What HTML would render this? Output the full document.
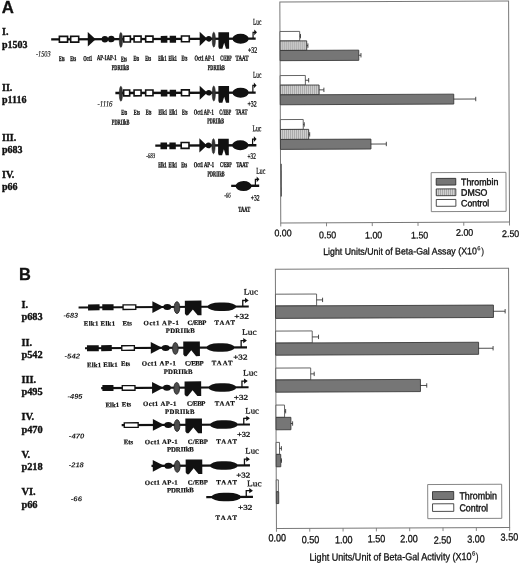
<!DOCTYPE html>
<html><head><meta charset="utf-8"><title>Figure</title>
<style>
html,body{margin:0;padding:0;background:#fff;}
body{width:520px;height:564px;overflow:hidden;}
svg{display:block;filter:grayscale(1) blur(0.35px);}
</style></head><body>
<svg width="520" height="564" viewBox="0 0 520 564">
<defs>
<pattern id="dmso" width="2" height="4" patternUnits="userSpaceOnUse"><rect width="2" height="4" fill="#d2d2d2"/><rect x="0" width="0.9" height="4" fill="#a2a2a2"/></pattern>
</defs>
<rect x="0" y="0" width="520" height="564" fill="#fff"/>

<text x="1.80" y="12.60" font-family='"Liberation Sans", sans-serif' font-size="16.8" font-weight="bold" font-style="normal" text-anchor="start" fill="#111" stroke="#111" stroke-width="0.3" >A</text>
<text x="2.00" y="34.70" font-family='"Liberation Serif", serif' font-size="10" font-weight="bold" font-style="normal" text-anchor="start" fill="#111" stroke="#111" stroke-width="0.35" >I.</text>
<text x="2.00" y="47.70" font-family='"Liberation Serif", serif' font-size="10" font-weight="bold" font-style="normal" text-anchor="start" fill="#111" stroke="#111" stroke-width="0.35" >p1503</text>
<text x="2.00" y="90.70" font-family='"Liberation Serif", serif' font-size="10" font-weight="bold" font-style="normal" text-anchor="start" fill="#111" stroke="#111" stroke-width="0.35" >II.</text>
<text x="2.00" y="103.10" font-family='"Liberation Serif", serif' font-size="10" font-weight="bold" font-style="normal" text-anchor="start" fill="#111" stroke="#111" stroke-width="0.35" >p1116</text>
<text x="2.00" y="140.50" font-family='"Liberation Serif", serif' font-size="10" font-weight="bold" font-style="normal" text-anchor="start" fill="#111" stroke="#111" stroke-width="0.35" >III.</text>
<text x="2.00" y="153.10" font-family='"Liberation Serif", serif' font-size="10" font-weight="bold" font-style="normal" text-anchor="start" fill="#111" stroke="#111" stroke-width="0.35" >p683</text>
<text x="2.00" y="177.80" font-family='"Liberation Serif", serif' font-size="10" font-weight="bold" font-style="normal" text-anchor="start" fill="#111" stroke="#111" stroke-width="0.35" >IV.</text>
<text x="2.00" y="190.40" font-family='"Liberation Serif", serif' font-size="10" font-weight="bold" font-style="normal" text-anchor="start" fill="#111" stroke="#111" stroke-width="0.35" >p66</text>
<g transform="rotate(-0.16 153 45)">
<line x1="51.20" y1="39.00" x2="255.70" y2="39.00" stroke="#111" stroke-width="2.3"/>
<rect x="59.40" y="36.10" width="8.20" height="5.80" fill="#fff" stroke="#111" stroke-width="1.6"/>
<rect x="70.70" y="36.10" width="8.00" height="5.80" fill="#fff" stroke="#111" stroke-width="1.6"/>
<polygon points="87.80,31.80 95.70,39.00 87.80,46.20" fill="#111" stroke="none" stroke-width="0"/>
<ellipse cx="104.90" cy="39.00" rx="3.25" ry="3.25" fill="#111" stroke="none" stroke-width="0"/>
<ellipse cx="111.30" cy="39.00" rx="3.25" ry="3.25" fill="#111" stroke="none" stroke-width="0"/>
<ellipse cx="120.90" cy="39.80" rx="1.60" ry="7.50" fill="#333" stroke="#262626" stroke-width="0.6"/>
<rect x="123.70" y="36.10" width="6.70" height="5.80" fill="#fff" stroke="#111" stroke-width="1.6"/>
<rect x="134.10" y="36.10" width="7.00" height="5.80" fill="#fff" stroke="#111" stroke-width="1.6"/>
<rect x="145.70" y="36.10" width="7.30" height="5.80" fill="#fff" stroke="#111" stroke-width="1.6"/>
<rect x="160.80" y="35.90" width="6.60" height="6.80" fill="#111" stroke="none" stroke-width="0"/>
<rect x="169.70" y="35.90" width="6.40" height="6.80" fill="#111" stroke="none" stroke-width="0"/>
<rect x="181.50" y="36.10" width="7.80" height="5.80" fill="#fff" stroke="#111" stroke-width="1.6"/>
<polygon points="199.70,31.90 207.20,39.00 199.70,46.10" fill="#111" stroke="none" stroke-width="0"/>
<ellipse cx="208.80" cy="39.00" rx="2.80" ry="2.80" fill="#111" stroke="none" stroke-width="0"/>
<ellipse cx="213.80" cy="39.80" rx="1.60" ry="7.50" fill="#333" stroke="#262626" stroke-width="0.6"/>
<polygon points="218.40,32.40 229.10,32.40 229.10,49.00 226.00,49.00 224.18,43.02 222.36,49.00 219.04,49.00 218.40,47.01" fill="#111" stroke="none" stroke-width="0"/>
<ellipse cx="240.60" cy="39.00" rx="8.10" ry="5.00" fill="#111" stroke="none" stroke-width="0"/>
<path d="M253.10,39.00 L253.10,32.60 L255.50,32.60" fill="none" stroke="#111" stroke-width="1.2"/>
<polygon points="254.30,29.70 257.00,32.60 254.30,35.50" fill="#111" stroke="none" stroke-width="0"/>
<text x="253.00" y="25.00" font-family='"Liberation Serif", serif' font-size="8.8" font-weight="normal" font-style="normal" text-anchor="start" fill="#111" textLength="8.40" lengthAdjust="spacingAndGlyphs" stroke="#111" stroke-width="0.25" >Luc</text>
<text x="248.00" y="53.00" font-family='"Liberation Serif", serif' font-size="8.2" font-weight="normal" font-style="normal" text-anchor="start" fill="#111" textLength="9.20" lengthAdjust="spacingAndGlyphs" stroke="#111" stroke-width="0.3" >+32</text>
<text x="36.00" y="56.20" font-family='"Liberation Serif", serif' font-size="8.2" font-weight="normal" font-style="italic" text-anchor="start" fill="#111" textLength="14.60" lengthAdjust="spacingAndGlyphs" stroke="#111" stroke-width="0.15" >-1503</text>
<text x="58.90" y="60.70" font-family='"Liberation Serif", serif' font-size="7.4" font-weight="bold" font-style="normal" text-anchor="start" fill="#111" textLength="5.70" lengthAdjust="spacingAndGlyphs" stroke="#111" stroke-width="0.3" >Ets</text>
<text x="70.20" y="60.70" font-family='"Liberation Serif", serif' font-size="7.4" font-weight="bold" font-style="normal" text-anchor="start" fill="#111" textLength="5.80" lengthAdjust="spacingAndGlyphs" stroke="#111" stroke-width="0.3" >Ets</text>
<text x="83.10" y="60.70" font-family='"Liberation Serif", serif' font-size="7.4" font-weight="bold" font-style="normal" text-anchor="start" fill="#111" textLength="9.10" lengthAdjust="spacingAndGlyphs" stroke="#111" stroke-width="0.3" >Oct1</text>
<text x="96.90" y="59.90" font-family='"Liberation Serif", serif' font-size="7.4" font-weight="bold" font-style="normal" text-anchor="start" fill="#111" textLength="19.50" lengthAdjust="spacingAndGlyphs" stroke="#111" stroke-width="0.3" >AP-1AP-1</text>
<text x="120.90" y="61.30" font-family='"Liberation Serif", serif' font-size="7.4" font-weight="bold" font-style="normal" text-anchor="start" fill="#111" textLength="5.90" lengthAdjust="spacingAndGlyphs" stroke="#111" stroke-width="0.3" >Ets</text>
<text x="133.40" y="60.70" font-family='"Liberation Serif", serif' font-size="7.4" font-weight="bold" font-style="normal" text-anchor="start" fill="#111" textLength="5.70" lengthAdjust="spacingAndGlyphs" stroke="#111" stroke-width="0.3" >Ets</text>
<text x="145.20" y="60.70" font-family='"Liberation Serif", serif' font-size="7.4" font-weight="bold" font-style="normal" text-anchor="start" fill="#111" textLength="5.80" lengthAdjust="spacingAndGlyphs" stroke="#111" stroke-width="0.3" >Ets</text>
<text x="158.20" y="60.70" font-family='"Liberation Serif", serif' font-size="7.4" font-weight="bold" font-style="normal" text-anchor="start" fill="#111" textLength="8.20" lengthAdjust="spacingAndGlyphs" stroke="#111" stroke-width="0.3" >Elk1</text>
<text x="168.50" y="60.70" font-family='"Liberation Serif", serif' font-size="7.4" font-weight="bold" font-style="normal" text-anchor="start" fill="#111" textLength="8.20" lengthAdjust="spacingAndGlyphs" stroke="#111" stroke-width="0.3" >Elk1</text>
<text x="181.50" y="60.70" font-family='"Liberation Serif", serif' font-size="7.4" font-weight="bold" font-style="normal" text-anchor="start" fill="#111" textLength="5.70" lengthAdjust="spacingAndGlyphs" stroke="#111" stroke-width="0.3" >Ets</text>
<text x="194.50" y="60.70" font-family='"Liberation Serif", serif' font-size="7.4" font-weight="bold" font-style="normal" text-anchor="start" fill="#111" textLength="19.90" lengthAdjust="spacingAndGlyphs" stroke="#111" stroke-width="0.3" >Oct1 AP-1</text>
<text x="220.20" y="60.70" font-family='"Liberation Serif", serif' font-size="7.4" font-weight="bold" font-style="normal" text-anchor="start" fill="#111" textLength="11.50" lengthAdjust="spacingAndGlyphs" stroke="#111" stroke-width="0.3" >C/EBP</text>
<text x="235.50" y="60.70" font-family='"Liberation Serif", serif' font-size="7.4" font-weight="bold" font-style="normal" text-anchor="start" fill="#111" textLength="13.00" lengthAdjust="spacingAndGlyphs" stroke="#111" stroke-width="0.3" >TAAT</text>
<text x="111.70" y="70.00" font-family='"Liberation Serif", serif' font-size="7.4" font-weight="bold" font-style="normal" text-anchor="start" fill="#111" textLength="17.30" lengthAdjust="spacingAndGlyphs" stroke="#111" stroke-width="0.3" >PDRIIkB</text>
<text x="207.70" y="70.20" font-family='"Liberation Serif", serif' font-size="7.4" font-weight="bold" font-style="normal" text-anchor="start" fill="#111" textLength="17.10" lengthAdjust="spacingAndGlyphs" stroke="#111" stroke-width="0.3" >PDRIIkB</text>
</g>
<g transform="rotate(-0.16 185 100)">
<line x1="115.40" y1="92.80" x2="255.70" y2="92.80" stroke="#111" stroke-width="2.3"/>
<ellipse cx="120.90" cy="93.60" rx="1.60" ry="7.50" fill="#333" stroke="#262626" stroke-width="0.6"/>
<rect x="123.70" y="89.90" width="6.00" height="5.80" fill="#fff" stroke="#111" stroke-width="1.6"/>
<rect x="134.10" y="89.90" width="7.00" height="5.80" fill="#fff" stroke="#111" stroke-width="1.6"/>
<rect x="145.70" y="89.90" width="7.30" height="5.80" fill="#fff" stroke="#111" stroke-width="1.6"/>
<rect x="160.80" y="89.70" width="6.60" height="6.80" fill="#111" stroke="none" stroke-width="0"/>
<rect x="169.70" y="89.70" width="6.40" height="6.80" fill="#111" stroke="none" stroke-width="0"/>
<rect x="181.50" y="89.90" width="7.80" height="5.80" fill="#fff" stroke="#111" stroke-width="1.6"/>
<polygon points="199.70,85.70 207.20,92.80 199.70,99.90" fill="#111" stroke="none" stroke-width="0"/>
<ellipse cx="208.80" cy="92.80" rx="2.80" ry="2.80" fill="#111" stroke="none" stroke-width="0"/>
<ellipse cx="213.80" cy="93.60" rx="1.60" ry="7.50" fill="#333" stroke="#262626" stroke-width="0.6"/>
<polygon points="218.40,86.20 229.10,86.20 229.10,102.80 226.00,102.80 224.18,96.82 222.36,102.80 219.04,102.80 218.40,100.81" fill="#111" stroke="none" stroke-width="0"/>
<ellipse cx="240.60" cy="92.80" rx="8.10" ry="5.00" fill="#111" stroke="none" stroke-width="0"/>
<path d="M252.90,92.80 L252.90,85.60 L255.10,85.60" fill="none" stroke="#111" stroke-width="1.2"/>
<polygon points="253.90,82.70 256.60,85.60 253.90,88.50" fill="#111" stroke="none" stroke-width="0"/>
<text x="253.00" y="78.00" font-family='"Liberation Serif", serif' font-size="8.8" font-weight="normal" font-style="normal" text-anchor="start" fill="#111" textLength="8.40" lengthAdjust="spacingAndGlyphs" stroke="#111" stroke-width="0.25" >Luc</text>
<text x="247.50" y="106.60" font-family='"Liberation Serif", serif' font-size="8.2" font-weight="normal" font-style="normal" text-anchor="start" fill="#111" textLength="9.20" lengthAdjust="spacingAndGlyphs" stroke="#111" stroke-width="0.3" >+32</text>
<text x="97.50" y="106.30" font-family='"Liberation Serif", serif' font-size="8.2" font-weight="normal" font-style="italic" text-anchor="start" fill="#111" textLength="15.00" lengthAdjust="spacingAndGlyphs" stroke="#111" stroke-width="0.15" >-1116</text>
<text x="121.30" y="114.50" font-family='"Liberation Serif", serif' font-size="7.4" font-weight="bold" font-style="normal" text-anchor="start" fill="#111" textLength="5.90" lengthAdjust="spacingAndGlyphs" stroke="#111" stroke-width="0.3" >Ets</text>
<text x="133.80" y="114.50" font-family='"Liberation Serif", serif' font-size="7.4" font-weight="bold" font-style="normal" text-anchor="start" fill="#111" textLength="6.00" lengthAdjust="spacingAndGlyphs" stroke="#111" stroke-width="0.3" >Ets</text>
<text x="145.60" y="114.50" font-family='"Liberation Serif", serif' font-size="7.4" font-weight="bold" font-style="normal" text-anchor="start" fill="#111" textLength="5.80" lengthAdjust="spacingAndGlyphs" stroke="#111" stroke-width="0.3" >Ets</text>
<text x="158.50" y="114.50" font-family='"Liberation Serif", serif' font-size="7.4" font-weight="bold" font-style="normal" text-anchor="start" fill="#111" textLength="8.50" lengthAdjust="spacingAndGlyphs" stroke="#111" stroke-width="0.3" >Elk1</text>
<text x="169.10" y="114.50" font-family='"Liberation Serif", serif' font-size="7.4" font-weight="bold" font-style="normal" text-anchor="start" fill="#111" textLength="8.10" lengthAdjust="spacingAndGlyphs" stroke="#111" stroke-width="0.3" >Elk1</text>
<text x="181.90" y="114.50" font-family='"Liberation Serif", serif' font-size="7.4" font-weight="bold" font-style="normal" text-anchor="start" fill="#111" textLength="5.50" lengthAdjust="spacingAndGlyphs" stroke="#111" stroke-width="0.3" >Ets</text>
<text x="193.70" y="114.50" font-family='"Liberation Serif", serif' font-size="7.4" font-weight="bold" font-style="normal" text-anchor="start" fill="#111" textLength="19.90" lengthAdjust="spacingAndGlyphs" stroke="#111" stroke-width="0.3" >Oct1 AP-1</text>
<text x="219.30" y="114.50" font-family='"Liberation Serif", serif' font-size="7.4" font-weight="bold" font-style="normal" text-anchor="start" fill="#111" textLength="11.90" lengthAdjust="spacingAndGlyphs" stroke="#111" stroke-width="0.3" >C/EBP</text>
<text x="235.70" y="114.50" font-family='"Liberation Serif", serif' font-size="7.4" font-weight="bold" font-style="normal" text-anchor="start" fill="#111" textLength="11.70" lengthAdjust="spacingAndGlyphs" stroke="#111" stroke-width="0.3" >TAAT</text>
<text x="111.70" y="124.30" font-family='"Liberation Serif", serif' font-size="7.4" font-weight="bold" font-style="normal" text-anchor="start" fill="#111" textLength="17.70" lengthAdjust="spacingAndGlyphs" stroke="#111" stroke-width="0.3" >PDRIIkB</text>
<text x="207.20" y="123.30" font-family='"Liberation Serif", serif' font-size="7.4" font-weight="bold" font-style="normal" text-anchor="start" fill="#111" textLength="16.80" lengthAdjust="spacingAndGlyphs" stroke="#111" stroke-width="0.3" >PDRIIkB</text>
</g>
<g transform="rotate(-0.16 205 150)">
<line x1="155.30" y1="145.40" x2="256.40" y2="145.40" stroke="#111" stroke-width="2.3"/>
<rect x="160.50" y="142.30" width="6.60" height="6.80" fill="#111" stroke="none" stroke-width="0"/>
<rect x="169.40" y="142.30" width="6.40" height="6.80" fill="#111" stroke="none" stroke-width="0"/>
<rect x="181.20" y="142.50" width="7.80" height="5.80" fill="#fff" stroke="#111" stroke-width="1.6"/>
<polygon points="199.40,138.30 206.90,145.40 199.40,152.50" fill="#111" stroke="none" stroke-width="0"/>
<ellipse cx="208.50" cy="145.40" rx="2.80" ry="2.80" fill="#111" stroke="none" stroke-width="0"/>
<ellipse cx="213.50" cy="146.20" rx="1.60" ry="7.50" fill="#333" stroke="#262626" stroke-width="0.6"/>
<polygon points="218.10,138.80 228.80,138.80 228.80,155.40 225.70,155.40 223.88,149.42 222.06,155.40 218.74,155.40 218.10,153.41" fill="#111" stroke="none" stroke-width="0"/>
<ellipse cx="240.30" cy="145.40" rx="8.10" ry="5.00" fill="#111" stroke="none" stroke-width="0"/>
<path d="M252.60,145.40 L252.60,139.20 L255.10,139.20" fill="none" stroke="#111" stroke-width="1.2"/>
<polygon points="253.90,136.30 256.60,139.20 253.90,142.10" fill="#111" stroke="none" stroke-width="0"/>
<text x="252.50" y="131.40" font-family='"Liberation Serif", serif' font-size="8.8" font-weight="normal" font-style="normal" text-anchor="start" fill="#111" textLength="9.00" lengthAdjust="spacingAndGlyphs" stroke="#111" stroke-width="0.25" >Luc</text>
<text x="247.60" y="159.00" font-family='"Liberation Serif", serif' font-size="8.2" font-weight="normal" font-style="normal" text-anchor="start" fill="#111" textLength="8.20" lengthAdjust="spacingAndGlyphs" stroke="#111" stroke-width="0.3" >+32</text>
<text x="146.20" y="157.80" font-family='"Liberation Serif", serif' font-size="7.2" font-weight="normal" font-style="italic" text-anchor="start" fill="#111" textLength="9.00" lengthAdjust="spacingAndGlyphs" stroke="#111" stroke-width="0.2" >-683</text>
<text x="158.10" y="167.10" font-family='"Liberation Serif", serif' font-size="7.4" font-weight="bold" font-style="normal" text-anchor="start" fill="#111" textLength="8.50" lengthAdjust="spacingAndGlyphs" stroke="#111" stroke-width="0.3" >Elk1</text>
<text x="168.50" y="167.10" font-family='"Liberation Serif", serif' font-size="7.4" font-weight="bold" font-style="normal" text-anchor="start" fill="#111" textLength="8.70" lengthAdjust="spacingAndGlyphs" stroke="#111" stroke-width="0.3" >Elk1</text>
<text x="181.10" y="167.10" font-family='"Liberation Serif", serif' font-size="7.4" font-weight="bold" font-style="normal" text-anchor="start" fill="#111" textLength="5.90" lengthAdjust="spacingAndGlyphs" stroke="#111" stroke-width="0.3" >Ets</text>
<text x="193.60" y="167.10" font-family='"Liberation Serif", serif' font-size="7.4" font-weight="bold" font-style="normal" text-anchor="start" fill="#111" textLength="20.40" lengthAdjust="spacingAndGlyphs" stroke="#111" stroke-width="0.3" >Oct1 AP-1</text>
<text x="219.90" y="167.10" font-family='"Liberation Serif", serif' font-size="7.4" font-weight="bold" font-style="normal" text-anchor="start" fill="#111" textLength="11.60" lengthAdjust="spacingAndGlyphs" stroke="#111" stroke-width="0.3" >C/EBP</text>
<text x="236.10" y="167.10" font-family='"Liberation Serif", serif' font-size="7.4" font-weight="bold" font-style="normal" text-anchor="start" fill="#111" textLength="12.30" lengthAdjust="spacingAndGlyphs" stroke="#111" stroke-width="0.3" >TAAT</text>
<text x="207.40" y="176.30" font-family='"Liberation Serif", serif' font-size="7.4" font-weight="bold" font-style="normal" text-anchor="start" fill="#111" textLength="17.10" lengthAdjust="spacingAndGlyphs" stroke="#111" stroke-width="0.3" >PDRIIkB</text>
</g>
<g transform="rotate(-0.16 245 190)">
<line x1="231.20" y1="185.80" x2="259.20" y2="185.80" stroke="#111" stroke-width="2.3"/>
<ellipse cx="243.60" cy="186.00" rx="8.00" ry="5.10" fill="#111" stroke="none" stroke-width="0"/>
<path d="M255.40,185.80 L255.40,179.40 L257.90,179.40" fill="none" stroke="#111" stroke-width="1.2"/>
<polygon points="256.70,176.50 259.40,179.40 256.70,182.30" fill="#111" stroke="none" stroke-width="0"/>
<text x="256.30" y="173.80" font-family='"Liberation Serif", serif' font-size="8.8" font-weight="normal" font-style="normal" text-anchor="start" fill="#111" textLength="9.00" lengthAdjust="spacingAndGlyphs" stroke="#111" stroke-width="0.25" >Luc</text>
<text x="250.80" y="200.50" font-family='"Liberation Serif", serif' font-size="8.2" font-weight="normal" font-style="normal" text-anchor="start" fill="#111" textLength="8.80" lengthAdjust="spacingAndGlyphs" stroke="#111" stroke-width="0.3" >+32</text>
<text x="224.20" y="197.50" font-family='"Liberation Serif", serif' font-size="7.2" font-weight="normal" font-style="italic" text-anchor="start" fill="#111" textLength="6.60" lengthAdjust="spacingAndGlyphs" stroke="#111" stroke-width="0.2" >-66</text>
<text x="238.30" y="211.70" font-family='"Liberation Serif", serif' font-size="7.4" font-weight="bold" font-style="normal" text-anchor="start" fill="#111" textLength="11.90" lengthAdjust="spacingAndGlyphs" stroke="#111" stroke-width="0.3" >TAAT</text>
</g>
<g transform="rotate(-0.24 394.7 111.9)">
<rect x="280.30" y="1.40" width="228.75" height="221.00" fill="none" stroke="#787878" stroke-width="1"/>
<rect x="280.30" y="31.00" width="19.70" height="9.50" fill="#fff" stroke="#555" stroke-width="0.9"/>
<line x1="300.00" y1="35.75" x2="300.80" y2="35.75" stroke="#222" stroke-width="0.8"/>
<line x1="300.80" y1="33.55" x2="300.80" y2="37.95" stroke="#222" stroke-width="0.8"/>
<rect x="280.30" y="40.50" width="26.70" height="9.50" fill="url(#dmso)" stroke="#3a3a3a" stroke-width="0.9"/>
<line x1="307.00" y1="45.25" x2="308.20" y2="45.25" stroke="#222" stroke-width="0.8"/>
<line x1="308.20" y1="43.05" x2="308.20" y2="47.45" stroke="#222" stroke-width="0.8"/>
<rect x="280.30" y="50.00" width="78.70" height="10.20" fill="#767676" stroke="#3a3a3a" stroke-width="0.9"/>
<line x1="359.00" y1="55.10" x2="361.20" y2="55.10" stroke="#222" stroke-width="0.8"/>
<line x1="361.20" y1="52.90" x2="361.20" y2="57.30" stroke="#222" stroke-width="0.8"/>
<rect x="280.30" y="75.10" width="25.20" height="9.60" fill="#fff" stroke="#555" stroke-width="0.9"/>
<line x1="305.50" y1="79.90" x2="308.80" y2="79.90" stroke="#222" stroke-width="0.8"/>
<line x1="308.80" y1="77.70" x2="308.80" y2="82.10" stroke="#222" stroke-width="0.8"/>
<rect x="280.30" y="84.70" width="38.90" height="9.70" fill="url(#dmso)" stroke="#3a3a3a" stroke-width="0.9"/>
<line x1="319.20" y1="89.55" x2="324.00" y2="89.55" stroke="#222" stroke-width="0.8"/>
<line x1="324.00" y1="87.35" x2="324.00" y2="91.75" stroke="#222" stroke-width="0.8"/>
<rect x="280.30" y="94.40" width="173.50" height="9.90" fill="#767676" stroke="#3a3a3a" stroke-width="0.9"/>
<line x1="453.80" y1="99.35" x2="475.80" y2="99.35" stroke="#222" stroke-width="0.8"/>
<line x1="475.80" y1="97.15" x2="475.80" y2="101.55" stroke="#222" stroke-width="0.8"/>
<rect x="280.30" y="119.10" width="22.90" height="9.90" fill="#fff" stroke="#555" stroke-width="0.9"/>
<line x1="303.20" y1="124.05" x2="304.20" y2="124.05" stroke="#222" stroke-width="0.8"/>
<line x1="304.20" y1="121.85" x2="304.20" y2="126.25" stroke="#222" stroke-width="0.8"/>
<rect x="280.30" y="129.00" width="28.30" height="10.00" fill="url(#dmso)" stroke="#3a3a3a" stroke-width="0.9"/>
<line x1="308.60" y1="134.00" x2="309.60" y2="134.00" stroke="#222" stroke-width="0.8"/>
<line x1="309.60" y1="131.80" x2="309.60" y2="136.20" stroke="#222" stroke-width="0.8"/>
<rect x="280.30" y="139.00" width="90.50" height="9.90" fill="#767676" stroke="#3a3a3a" stroke-width="0.9"/>
<line x1="370.80" y1="143.95" x2="386.20" y2="143.95" stroke="#222" stroke-width="0.8"/>
<line x1="386.20" y1="141.75" x2="386.20" y2="146.15" stroke="#222" stroke-width="0.8"/>
<rect x="280.30" y="163.40" width="1.30" height="32.60" fill="#555" stroke="none" stroke-width="0"/>
<line x1="280.30" y1="222.40" x2="280.30" y2="226.00" stroke="#787878" stroke-width="0.9"/>
<text x="282.50" y="235.73" font-family='"Liberation Sans", sans-serif' font-size="9.6" font-weight="normal" font-style="normal" text-anchor="middle" fill="#111" textLength="17.20" lengthAdjust="spacingAndGlyphs" stroke="#111" stroke-width="0.3" >0.00</text>
<line x1="326.05" y1="222.40" x2="326.05" y2="226.00" stroke="#787878" stroke-width="0.9"/>
<text x="327.10" y="237.92" font-family='"Liberation Sans", sans-serif' font-size="9.6" font-weight="normal" font-style="normal" text-anchor="middle" fill="#111" textLength="17.20" lengthAdjust="spacingAndGlyphs" stroke="#111" stroke-width="0.3" >0.50</text>
<line x1="371.80" y1="222.40" x2="371.80" y2="226.00" stroke="#787878" stroke-width="0.9"/>
<text x="373.10" y="238.31" font-family='"Liberation Sans", sans-serif' font-size="9.6" font-weight="normal" font-style="normal" text-anchor="middle" fill="#111" textLength="17.20" lengthAdjust="spacingAndGlyphs" stroke="#111" stroke-width="0.3" >1.00</text>
<line x1="417.55" y1="222.40" x2="417.55" y2="226.00" stroke="#787878" stroke-width="0.9"/>
<text x="419.10" y="238.70" font-family='"Liberation Sans", sans-serif' font-size="9.6" font-weight="normal" font-style="normal" text-anchor="middle" fill="#111" textLength="17.20" lengthAdjust="spacingAndGlyphs" stroke="#111" stroke-width="0.3" >1.50</text>
<line x1="463.30" y1="222.40" x2="463.30" y2="226.00" stroke="#787878" stroke-width="0.9"/>
<text x="464.10" y="235.99" font-family='"Liberation Sans", sans-serif' font-size="9.6" font-weight="normal" font-style="normal" text-anchor="middle" fill="#111" textLength="17.20" lengthAdjust="spacingAndGlyphs" stroke="#111" stroke-width="0.3" >2.00</text>
<line x1="509.05" y1="222.40" x2="509.05" y2="226.00" stroke="#787878" stroke-width="0.9"/>
<text x="510.10" y="237.39" font-family='"Liberation Sans", sans-serif' font-size="9.6" font-weight="normal" font-style="normal" text-anchor="middle" fill="#111" textLength="17.20" lengthAdjust="spacingAndGlyphs" stroke="#111" stroke-width="0.3" >2.50</text>
<text x="322.60" y="254.60" font-family='"Liberation Sans", sans-serif' font-size="9.6" font-weight="normal" font-style="normal" text-anchor="start" fill="#111" textLength="153.60" lengthAdjust="spacingAndGlyphs" stroke="#111" stroke-width="0.3" >Light Units/Unit of Beta-Gal Assay (X10</text>
<text x="476.60" y="250.50" font-family='"Liberation Sans", sans-serif' font-size="5.8" font-weight="normal" font-style="normal" text-anchor="start" fill="#111" stroke="#111" stroke-width="0.15" >6</text>
<text x="480.60" y="254.90" font-family='"Liberation Sans", sans-serif' font-size="9.6" font-weight="normal" font-style="normal" text-anchor="start" fill="#111" textLength="2.80" lengthAdjust="spacingAndGlyphs" stroke="#111" stroke-width="0.2" >)</text>
<g transform="translate(-0.3 0.3)">
<rect x="431.20" y="172.50" width="74.80" height="39.00" fill="#fff" stroke="#787878" stroke-width="0.9"/>
<rect x="436.20" y="178.30" width="19.60" height="6.70" fill="#767676" stroke="#222" stroke-width="0.8"/>
<rect x="436.20" y="188.80" width="19.60" height="6.80" fill="url(#dmso)" stroke="#222" stroke-width="0.8"/>
<rect x="436.20" y="199.40" width="19.60" height="6.80" fill="#fff" stroke="#222" stroke-width="0.8"/>
<text x="461.00" y="185.20" font-family='"Liberation Sans", sans-serif' font-size="9.4" font-weight="normal" font-style="normal" text-anchor="start" fill="#111" textLength="37.30" lengthAdjust="spacingAndGlyphs" stroke="#111" stroke-width="0.4" >Thrombin</text>
<text x="461.00" y="195.80" font-family='"Liberation Sans", sans-serif' font-size="9.4" font-weight="normal" font-style="normal" text-anchor="start" fill="#111" textLength="26.40" lengthAdjust="spacingAndGlyphs" stroke="#111" stroke-width="0.4" >DMSO</text>
<text x="461.00" y="206.40" font-family='"Liberation Sans", sans-serif' font-size="9.4" font-weight="normal" font-style="normal" text-anchor="start" fill="#111" textLength="28.20" lengthAdjust="spacingAndGlyphs" stroke="#111" stroke-width="0.4" >Control</text>
</g>
</g>
<text x="19.00" y="280.20" font-family='"Liberation Sans", sans-serif' font-size="16.4" font-weight="bold" font-style="normal" text-anchor="start" fill="#111" stroke="#111" stroke-width="0.3" >B</text>
<text x="21.40" y="308.00" font-family='"Liberation Serif", serif' font-size="10.4" font-weight="bold" font-style="normal" text-anchor="start" fill="#111" stroke="#111" stroke-width="0.35" >I.</text>
<text x="21.40" y="320.30" font-family='"Liberation Serif", serif' font-size="10.4" font-weight="bold" font-style="normal" text-anchor="start" fill="#111" stroke="#111" stroke-width="0.35" >p683</text>
<text x="21.40" y="345.50" font-family='"Liberation Serif", serif' font-size="10.4" font-weight="bold" font-style="normal" text-anchor="start" fill="#111" stroke="#111" stroke-width="0.35" >II.</text>
<text x="21.40" y="357.70" font-family='"Liberation Serif", serif' font-size="10.4" font-weight="bold" font-style="normal" text-anchor="start" fill="#111" stroke="#111" stroke-width="0.35" >p542</text>
<text x="21.40" y="382.60" font-family='"Liberation Serif", serif' font-size="10.4" font-weight="bold" font-style="normal" text-anchor="start" fill="#111" stroke="#111" stroke-width="0.35" >III.</text>
<text x="21.40" y="395.20" font-family='"Liberation Serif", serif' font-size="10.4" font-weight="bold" font-style="normal" text-anchor="start" fill="#111" stroke="#111" stroke-width="0.35" >p495</text>
<text x="21.40" y="420.00" font-family='"Liberation Serif", serif' font-size="10.4" font-weight="bold" font-style="normal" text-anchor="start" fill="#111" stroke="#111" stroke-width="0.35" >IV.</text>
<text x="21.40" y="432.70" font-family='"Liberation Serif", serif' font-size="10.4" font-weight="bold" font-style="normal" text-anchor="start" fill="#111" stroke="#111" stroke-width="0.35" >p470</text>
<text x="21.40" y="457.50" font-family='"Liberation Serif", serif' font-size="10.4" font-weight="bold" font-style="normal" text-anchor="start" fill="#111" stroke="#111" stroke-width="0.35" >V.</text>
<text x="21.40" y="470.20" font-family='"Liberation Serif", serif' font-size="10.4" font-weight="bold" font-style="normal" text-anchor="start" fill="#111" stroke="#111" stroke-width="0.35" >p218</text>
<text x="21.40" y="495.00" font-family='"Liberation Serif", serif' font-size="10.4" font-weight="bold" font-style="normal" text-anchor="start" fill="#111" stroke="#111" stroke-width="0.35" >VI.</text>
<text x="21.40" y="507.70" font-family='"Liberation Serif", serif' font-size="10.4" font-weight="bold" font-style="normal" text-anchor="start" fill="#111" stroke="#111" stroke-width="0.35" >p66</text>
<g transform="rotate(-0.3 163 312)">
<line x1="78.60" y1="307.00" x2="248.80" y2="307.00" stroke="#111" stroke-width="2.1"/>
<rect x="88.10" y="304.00" width="11.50" height="6.00" fill="#111" stroke="none" stroke-width="0"/>
<rect x="102.30" y="304.00" width="11.30" height="6.00" fill="#111" stroke="none" stroke-width="0"/>
<rect x="123.10" y="304.70" width="12.70" height="4.60" fill="#fff" stroke="#111" stroke-width="1.35"/>
<polygon points="152.40,301.10 163.70,307.00 152.40,312.90" fill="#111" stroke="none" stroke-width="0"/>
<ellipse cx="167.30" cy="307.10" rx="4.00" ry="3.00" fill="#111" stroke="none" stroke-width="0"/>
<ellipse cx="177.00" cy="307.70" rx="2.80" ry="5.90" fill="#4c4c4c" stroke="#262626" stroke-width="0.9"/>
<polygon points="184.90,300.80 201.50,300.80 201.50,315.50 197.68,315.50 192.87,309.62 188.05,315.50 186.23,315.50 184.90,313.74" fill="#111" stroke="none" stroke-width="0"/>
<rect x="207.60" y="302.75" width="28.60" height="8.50" rx="12.01" ry="4.25" fill="#111"/>
<path d="M242.80,307.00 L242.80,300.90 L247.30,300.90" fill="none" stroke="#111" stroke-width="1.3"/>
<polygon points="245.10,298.30 248.80,300.90 245.10,303.50" fill="#111" stroke="none" stroke-width="0"/>
<text x="243.80" y="295.00" font-family='"Liberation Serif", serif' font-size="8.4" font-weight="normal" font-style="normal" text-anchor="start" fill="#111" textLength="14.40" lengthAdjust="spacingAndGlyphs" stroke="#111" stroke-width="0.25" >Luc</text>
<text x="234.20" y="319.20" font-family='"Liberation Serif", serif' font-size="7.3" font-weight="normal" font-style="normal" text-anchor="start" fill="#111" textLength="14.60" lengthAdjust="spacingAndGlyphs" stroke="#111" stroke-width="0.3" >+32</text>
<text x="63.40" y="317.20" font-family='"Liberation Sans", sans-serif' font-size="7.0" font-weight="bold" font-style="italic" text-anchor="start" fill="#1a1a1a" textLength="14.60" lengthAdjust="spacingAndGlyphs" >-683</text>
<text x="83.80" y="325.40" font-family='"Liberation Serif", serif' font-size="6.8" font-weight="bold" font-style="normal" text-anchor="start" fill="#111" textLength="31.20" lengthAdjust="spacing" stroke="#111" stroke-width="0.22" >Elk1 Elk1</text>
<text x="122.40" y="325.40" font-family='"Liberation Serif", serif' font-size="6.8" font-weight="bold" font-style="normal" text-anchor="start" fill="#111" textLength="9.50" lengthAdjust="spacing" stroke="#111" stroke-width="0.22" >Ets</text>
<text x="143.40" y="325.20" font-family='"Liberation Serif", serif' font-size="6.8" font-weight="bold" font-style="normal" text-anchor="start" fill="#111" textLength="35.40" lengthAdjust="spacing" stroke="#111" stroke-width="0.22" >Oct1 AP-1</text>
<text x="187.50" y="325.20" font-family='"Liberation Serif", serif' font-size="6.8" font-weight="bold" font-style="normal" text-anchor="start" fill="#111" textLength="18.80" lengthAdjust="spacing" stroke="#111" stroke-width="0.22" >C/EBP</text>
<text x="214.50" y="325.20" font-family='"Liberation Serif", serif' font-size="6.8" font-weight="bold" font-style="normal" text-anchor="start" fill="#111" textLength="20.50" lengthAdjust="spacing" stroke="#111" stroke-width="0.22" >TAAT</text>
<text x="165.60" y="333.00" font-family='"Liberation Serif", serif' font-size="6.8" font-weight="bold" font-style="normal" text-anchor="start" fill="#111" textLength="29.20" lengthAdjust="spacing" stroke="#111" stroke-width="0.22" >PDRIIkB</text>
</g>
<g transform="rotate(-0.3 165 352)">
<line x1="85.00" y1="347.80" x2="247.00" y2="347.80" stroke="#111" stroke-width="2.1"/>
<rect x="87.00" y="344.80" width="11.80" height="6.00" fill="#111" stroke="none" stroke-width="0"/>
<rect x="101.20" y="344.80" width="10.60" height="6.00" fill="#111" stroke="none" stroke-width="0"/>
<rect x="121.80" y="345.50" width="12.60" height="4.60" fill="#fff" stroke="#111" stroke-width="1.35"/>
<polygon points="150.80,341.90 162.10,347.80 150.80,353.70" fill="#111" stroke="none" stroke-width="0"/>
<ellipse cx="165.70" cy="347.90" rx="4.00" ry="3.00" fill="#111" stroke="none" stroke-width="0"/>
<ellipse cx="175.40" cy="348.50" rx="2.80" ry="5.90" fill="#4c4c4c" stroke="#262626" stroke-width="0.9"/>
<polygon points="183.30,341.60 199.90,341.60 199.90,356.30 196.08,356.30 191.27,350.42 186.45,356.30 184.63,356.30 183.30,354.54" fill="#111" stroke="none" stroke-width="0"/>
<rect x="206.50" y="343.55" width="28.00" height="8.50" rx="11.76" ry="4.25" fill="#111"/>
<path d="M241.20,347.80 L241.20,341.00 L245.50,341.00" fill="none" stroke="#111" stroke-width="1.3"/>
<polygon points="243.30,338.40 247.00,341.00 243.30,343.60" fill="#111" stroke="none" stroke-width="0"/>
<text x="242.20" y="335.20" font-family='"Liberation Serif", serif' font-size="8.4" font-weight="normal" font-style="normal" text-anchor="start" fill="#111" textLength="14.60" lengthAdjust="spacingAndGlyphs" stroke="#111" stroke-width="0.25" >Luc</text>
<text x="233.20" y="359.80" font-family='"Liberation Serif", serif' font-size="7.3" font-weight="normal" font-style="normal" text-anchor="start" fill="#111" textLength="14.20" lengthAdjust="spacingAndGlyphs" stroke="#111" stroke-width="0.3" >+32</text>
<text x="64.50" y="358.00" font-family='"Liberation Sans", sans-serif' font-size="7.0" font-weight="bold" font-style="italic" text-anchor="start" fill="#1a1a1a" textLength="15.50" lengthAdjust="spacingAndGlyphs" >-542</text>
<text x="86.80" y="366.80" font-family='"Liberation Serif", serif' font-size="6.8" font-weight="bold" font-style="normal" text-anchor="start" fill="#111" textLength="30.80" lengthAdjust="spacing" stroke="#111" stroke-width="0.22" >Elk1 Elk1</text>
<text x="121.00" y="365.90" font-family='"Liberation Serif", serif' font-size="6.8" font-weight="bold" font-style="normal" text-anchor="start" fill="#111" textLength="9.20" lengthAdjust="spacing" stroke="#111" stroke-width="0.22" >Ets</text>
<text x="141.60" y="365.60" font-family='"Liberation Serif", serif' font-size="6.8" font-weight="bold" font-style="normal" text-anchor="start" fill="#111" textLength="34.20" lengthAdjust="spacing" stroke="#111" stroke-width="0.22" >Oct1 AP-1</text>
<text x="185.00" y="365.60" font-family='"Liberation Serif", serif' font-size="6.8" font-weight="bold" font-style="normal" text-anchor="start" fill="#111" textLength="18.60" lengthAdjust="spacing" stroke="#111" stroke-width="0.22" >C/EBP</text>
<text x="211.80" y="365.60" font-family='"Liberation Serif", serif' font-size="6.8" font-weight="bold" font-style="normal" text-anchor="start" fill="#111" textLength="20.70" lengthAdjust="spacing" stroke="#111" stroke-width="0.22" >TAAT</text>
<text x="163.60" y="374.00" font-family='"Liberation Serif", serif' font-size="6.8" font-weight="bold" font-style="normal" text-anchor="start" fill="#111" textLength="28.80" lengthAdjust="spacing" stroke="#111" stroke-width="0.22" >PDRIIkB</text>
</g>
<g transform="rotate(-0.3 175 392)">
<line x1="101.20" y1="387.70" x2="248.60" y2="387.70" stroke="#111" stroke-width="2.1"/>
<rect x="102.40" y="384.70" width="11.10" height="6.00" fill="#111" stroke="none" stroke-width="0"/>
<rect x="122.30" y="385.40" width="12.70" height="4.60" fill="#fff" stroke="#111" stroke-width="1.35"/>
<polygon points="152.10,381.80 163.40,387.70 152.10,393.60" fill="#111" stroke="none" stroke-width="0"/>
<ellipse cx="167.00" cy="387.80" rx="4.00" ry="3.00" fill="#111" stroke="none" stroke-width="0"/>
<ellipse cx="176.70" cy="388.40" rx="2.80" ry="5.90" fill="#4c4c4c" stroke="#262626" stroke-width="0.9"/>
<polygon points="184.60,381.50 201.20,381.50 201.20,396.20 197.38,396.20 192.57,390.32 187.75,396.20 185.93,396.20 184.60,394.44" fill="#111" stroke="none" stroke-width="0"/>
<rect x="208.60" y="383.45" width="27.60" height="8.50" rx="11.59" ry="4.25" fill="#111"/>
<path d="M242.00,387.70 L242.00,381.40 L246.30,381.40" fill="none" stroke="#111" stroke-width="1.3"/>
<polygon points="244.10,378.80 247.80,381.40 244.10,384.00" fill="#111" stroke="none" stroke-width="0"/>
<text x="243.00" y="375.80" font-family='"Liberation Serif", serif' font-size="8.4" font-weight="normal" font-style="normal" text-anchor="start" fill="#111" textLength="14.60" lengthAdjust="spacingAndGlyphs" stroke="#111" stroke-width="0.25" >Luc</text>
<text x="233.80" y="400.20" font-family='"Liberation Serif", serif' font-size="7.3" font-weight="normal" font-style="normal" text-anchor="start" fill="#111" textLength="14.20" lengthAdjust="spacingAndGlyphs" stroke="#111" stroke-width="0.3" >+32</text>
<text x="67.50" y="398.30" font-family='"Liberation Sans", sans-serif' font-size="7.0" font-weight="bold" font-style="italic" text-anchor="start" fill="#1a1a1a" textLength="15.00" lengthAdjust="spacingAndGlyphs" >-495</text>
<text x="105.40" y="406.80" font-family='"Liberation Serif", serif' font-size="6.8" font-weight="bold" font-style="normal" text-anchor="start" fill="#111" textLength="13.60" lengthAdjust="spacing" stroke="#111" stroke-width="0.22" >Elk1</text>
<text x="121.80" y="406.20" font-family='"Liberation Serif", serif' font-size="6.8" font-weight="bold" font-style="normal" text-anchor="start" fill="#111" textLength="9.40" lengthAdjust="spacing" stroke="#111" stroke-width="0.22" >Ets</text>
<text x="142.90" y="405.90" font-family='"Liberation Serif", serif' font-size="6.8" font-weight="bold" font-style="normal" text-anchor="start" fill="#111" textLength="33.50" lengthAdjust="spacing" stroke="#111" stroke-width="0.22" >Oct1 AP-1</text>
<text x="187.00" y="405.90" font-family='"Liberation Serif", serif' font-size="6.8" font-weight="bold" font-style="normal" text-anchor="start" fill="#111" textLength="18.40" lengthAdjust="spacing" stroke="#111" stroke-width="0.22" >C/EBP</text>
<text x="214.60" y="405.90" font-family='"Liberation Serif", serif' font-size="6.8" font-weight="bold" font-style="normal" text-anchor="start" fill="#111" textLength="20.20" lengthAdjust="spacing" stroke="#111" stroke-width="0.22" >TAAT</text>
<text x="164.80" y="414.00" font-family='"Liberation Serif", serif' font-size="6.8" font-weight="bold" font-style="normal" text-anchor="start" fill="#111" textLength="29.60" lengthAdjust="spacing" stroke="#111" stroke-width="0.22" >PDRIIkB</text>
</g>
<g transform="rotate(-0.3 185 430)">
<line x1="121.70" y1="424.80" x2="250.00" y2="424.80" stroke="#111" stroke-width="2.1"/>
<rect x="124.30" y="422.50" width="13.90" height="4.60" fill="#fff" stroke="#111" stroke-width="1.35"/>
<polygon points="152.90,418.90 164.20,424.80 152.90,430.70" fill="#111" stroke="none" stroke-width="0"/>
<ellipse cx="168.30" cy="424.90" rx="4.00" ry="3.00" fill="#111" stroke="none" stroke-width="0"/>
<ellipse cx="177.10" cy="425.50" rx="2.80" ry="5.90" fill="#4c4c4c" stroke="#262626" stroke-width="0.9"/>
<polygon points="185.40,418.60 202.00,418.60 202.00,433.30 198.18,433.30 193.37,427.42 188.55,433.30 186.73,433.30 185.40,431.54" fill="#111" stroke="none" stroke-width="0"/>
<rect x="210.00" y="420.55" width="27.70" height="8.50" rx="11.63" ry="4.25" fill="#111"/>
<path d="M243.80,424.80 L243.80,418.60 L248.50,418.60" fill="none" stroke="#111" stroke-width="1.3"/>
<polygon points="246.30,416.00 250.00,418.60 246.30,421.20" fill="#111" stroke="none" stroke-width="0"/>
<text x="245.40" y="413.80" font-family='"Liberation Serif", serif' font-size="8.4" font-weight="normal" font-style="normal" text-anchor="start" fill="#111" textLength="13.60" lengthAdjust="spacingAndGlyphs" stroke="#111" stroke-width="0.25" >Luc</text>
<text x="237.00" y="437.00" font-family='"Liberation Serif", serif' font-size="7.3" font-weight="normal" font-style="normal" text-anchor="start" fill="#111" textLength="13.20" lengthAdjust="spacingAndGlyphs" stroke="#111" stroke-width="0.3" >+32</text>
<text x="68.80" y="438.00" font-family='"Liberation Sans", sans-serif' font-size="7.0" font-weight="bold" font-style="italic" text-anchor="start" fill="#1a1a1a" textLength="15.40" lengthAdjust="spacingAndGlyphs" >-470</text>
<text x="123.80" y="444.00" font-family='"Liberation Serif", serif' font-size="6.8" font-weight="bold" font-style="normal" text-anchor="start" fill="#111" textLength="9.20" lengthAdjust="spacing" stroke="#111" stroke-width="0.22" >Ets</text>
<text x="144.80" y="444.00" font-family='"Liberation Serif", serif' font-size="6.8" font-weight="bold" font-style="normal" text-anchor="start" fill="#111" textLength="32.90" lengthAdjust="spacing" stroke="#111" stroke-width="0.22" >Oct1 AP-1</text>
<text x="187.80" y="444.00" font-family='"Liberation Serif", serif' font-size="6.8" font-weight="bold" font-style="normal" text-anchor="start" fill="#111" textLength="20.00" lengthAdjust="spacing" stroke="#111" stroke-width="0.22" >C/EBP</text>
<text x="216.20" y="444.00" font-family='"Liberation Serif", serif' font-size="6.8" font-weight="bold" font-style="normal" text-anchor="start" fill="#111" textLength="20.80" lengthAdjust="spacing" stroke="#111" stroke-width="0.22" >TAAT</text>
<text x="167.00" y="451.60" font-family='"Liberation Serif", serif' font-size="6.8" font-weight="bold" font-style="normal" text-anchor="start" fill="#111" textLength="26.70" lengthAdjust="spacing" stroke="#111" stroke-width="0.22" >PDRIIkB</text>
</g>
<g transform="rotate(-0.3 200 470)">
<line x1="151.50" y1="465.60" x2="250.00" y2="465.60" stroke="#111" stroke-width="2.1"/>
<polygon points="152.80,459.70 164.10,465.60 152.80,471.50" fill="#111" stroke="none" stroke-width="0"/>
<ellipse cx="168.50" cy="465.70" rx="4.00" ry="3.00" fill="#111" stroke="none" stroke-width="0"/>
<ellipse cx="177.30" cy="466.30" rx="2.80" ry="5.90" fill="#4c4c4c" stroke="#262626" stroke-width="0.9"/>
<polygon points="185.70,459.40 202.30,459.40 202.30,474.10 198.48,474.10 193.67,468.22 188.85,474.10 187.03,474.10 185.70,472.34" fill="#111" stroke="none" stroke-width="0"/>
<rect x="210.00" y="461.35" width="27.70" height="8.50" rx="11.63" ry="4.25" fill="#111"/>
<path d="M244.50,465.60 L244.50,459.40 L248.50,459.40" fill="none" stroke="#111" stroke-width="1.3"/>
<polygon points="246.30,456.80 250.00,459.40 246.30,462.00" fill="#111" stroke="none" stroke-width="0"/>
<text x="245.40" y="453.80" font-family='"Liberation Serif", serif' font-size="8.4" font-weight="normal" font-style="normal" text-anchor="start" fill="#111" textLength="13.60" lengthAdjust="spacingAndGlyphs" stroke="#111" stroke-width="0.25" >Luc</text>
<text x="236.20" y="477.80" font-family='"Liberation Serif", serif' font-size="7.3" font-weight="normal" font-style="normal" text-anchor="start" fill="#111" textLength="14.00" lengthAdjust="spacingAndGlyphs" stroke="#111" stroke-width="0.3" >+32</text>
<text x="68.80" y="466.70" font-family='"Liberation Sans", sans-serif' font-size="7.0" font-weight="bold" font-style="italic" text-anchor="start" fill="#1a1a1a" textLength="15.00" lengthAdjust="spacingAndGlyphs" >-218</text>
<text x="144.80" y="484.60" font-family='"Liberation Serif", serif' font-size="6.8" font-weight="bold" font-style="normal" text-anchor="start" fill="#111" textLength="32.90" lengthAdjust="spacing" stroke="#111" stroke-width="0.22" >Oct1 AP-1</text>
<text x="187.80" y="484.60" font-family='"Liberation Serif", serif' font-size="6.8" font-weight="bold" font-style="normal" text-anchor="start" fill="#111" textLength="20.00" lengthAdjust="spacing" stroke="#111" stroke-width="0.22" >C/EBP</text>
<text x="216.20" y="484.60" font-family='"Liberation Serif", serif' font-size="6.8" font-weight="bold" font-style="normal" text-anchor="start" fill="#111" textLength="20.80" lengthAdjust="spacing" stroke="#111" stroke-width="0.22" >TAAT</text>
<text x="167.00" y="492.30" font-family='"Liberation Serif", serif' font-size="6.8" font-weight="bold" font-style="normal" text-anchor="start" fill="#111" textLength="26.70" lengthAdjust="spacing" stroke="#111" stroke-width="0.22" >PDRIIkB</text>
</g>
<g transform="rotate(-0.3 230 502)">
<line x1="206.30" y1="497.00" x2="253.00" y2="497.00" stroke="#111" stroke-width="2.1"/>
<rect x="211.50" y="492.75" width="29.30" height="8.50" rx="12.31" ry="4.25" fill="#111"/>
<path d="M246.30,497.00 L246.30,490.80 L251.50,490.80" fill="none" stroke="#111" stroke-width="1.3"/>
<polygon points="249.30,488.20 253.00,490.80 249.30,493.40" fill="#111" stroke="none" stroke-width="0"/>
<text x="247.20" y="486.40" font-family='"Liberation Serif", serif' font-size="8.4" font-weight="normal" font-style="normal" text-anchor="start" fill="#111" textLength="14.60" lengthAdjust="spacingAndGlyphs" stroke="#111" stroke-width="0.25" >Luc</text>
<text x="238.00" y="509.80" font-family='"Liberation Serif", serif' font-size="7.3" font-weight="normal" font-style="normal" text-anchor="start" fill="#111" textLength="14.20" lengthAdjust="spacingAndGlyphs" stroke="#111" stroke-width="0.3" >+32</text>
<text x="70.80" y="500.40" font-family='"Liberation Sans", sans-serif' font-size="7.0" font-weight="bold" font-style="italic" text-anchor="start" fill="#1a1a1a" textLength="11.20" lengthAdjust="spacingAndGlyphs" >-66</text>
<text x="215.50" y="520.00" font-family='"Liberation Serif", serif' font-size="6.8" font-weight="bold" font-style="normal" text-anchor="start" fill="#111" textLength="21.50" lengthAdjust="spacing" stroke="#111" stroke-width="0.22" >TAAT</text>
</g>
<g transform="rotate(-0.24 392.5 398.3)">
<rect x="275.90" y="268.65" width="233.20" height="259.25" fill="none" stroke="#787878" stroke-width="1"/>
<rect x="275.90" y="293.70" width="41.10" height="11.80" fill="#fff" stroke="#555" stroke-width="0.9"/>
<line x1="317.00" y1="299.60" x2="323.00" y2="299.60" stroke="#222" stroke-width="0.8"/>
<line x1="323.00" y1="297.40" x2="323.00" y2="301.80" stroke="#222" stroke-width="0.8"/>
<rect x="275.90" y="305.50" width="217.90" height="12.40" fill="#767676" stroke="#3a3a3a" stroke-width="0.9"/>
<line x1="493.80" y1="311.70" x2="505.50" y2="311.70" stroke="#222" stroke-width="0.8"/>
<line x1="505.50" y1="309.50" x2="505.50" y2="313.90" stroke="#222" stroke-width="0.8"/>
<rect x="275.90" y="330.60" width="36.60" height="12.00" fill="#fff" stroke="#555" stroke-width="0.9"/>
<line x1="312.50" y1="336.60" x2="318.80" y2="336.60" stroke="#222" stroke-width="0.8"/>
<line x1="318.80" y1="334.40" x2="318.80" y2="338.80" stroke="#222" stroke-width="0.8"/>
<rect x="275.90" y="342.60" width="202.90" height="12.10" fill="#767676" stroke="#3a3a3a" stroke-width="0.9"/>
<line x1="478.80" y1="348.65" x2="493.30" y2="348.65" stroke="#222" stroke-width="0.8"/>
<line x1="493.30" y1="346.45" x2="493.30" y2="350.85" stroke="#222" stroke-width="0.8"/>
<rect x="275.90" y="367.60" width="34.90" height="11.90" fill="#fff" stroke="#555" stroke-width="0.9"/>
<line x1="310.80" y1="373.55" x2="314.30" y2="373.55" stroke="#222" stroke-width="0.8"/>
<line x1="314.30" y1="371.35" x2="314.30" y2="375.75" stroke="#222" stroke-width="0.8"/>
<rect x="275.90" y="379.50" width="144.60" height="12.20" fill="#767676" stroke="#3a3a3a" stroke-width="0.9"/>
<line x1="420.50" y1="385.60" x2="426.80" y2="385.60" stroke="#222" stroke-width="0.8"/>
<line x1="426.80" y1="383.40" x2="426.80" y2="387.80" stroke="#222" stroke-width="0.8"/>
<rect x="275.90" y="404.60" width="8.60" height="12.30" fill="#fff" stroke="#555" stroke-width="0.9"/>
<line x1="284.50" y1="410.75" x2="285.60" y2="410.75" stroke="#222" stroke-width="0.8"/>
<line x1="285.60" y1="408.55" x2="285.60" y2="412.95" stroke="#222" stroke-width="0.8"/>
<rect x="275.90" y="416.90" width="14.90" height="12.40" fill="#767676" stroke="#3a3a3a" stroke-width="0.9"/>
<line x1="290.80" y1="423.10" x2="292.50" y2="423.10" stroke="#222" stroke-width="0.8"/>
<line x1="292.50" y1="420.90" x2="292.50" y2="425.30" stroke="#222" stroke-width="0.8"/>
<rect x="275.90" y="441.90" width="3.40" height="12.00" fill="#fff" stroke="#555" stroke-width="0.9"/>
<line x1="279.30" y1="447.90" x2="281.20" y2="447.90" stroke="#222" stroke-width="0.8"/>
<line x1="281.20" y1="445.70" x2="281.20" y2="450.10" stroke="#222" stroke-width="0.8"/>
<rect x="275.90" y="453.90" width="4.60" height="12.40" fill="#767676" stroke="#3a3a3a" stroke-width="0.9"/>
<line x1="280.50" y1="460.10" x2="281.20" y2="460.10" stroke="#222" stroke-width="0.8"/>
<line x1="281.20" y1="457.90" x2="281.20" y2="462.30" stroke="#222" stroke-width="0.8"/>
<rect x="275.90" y="479.40" width="2.10" height="11.90" fill="#fff" stroke="#555" stroke-width="0.9"/>
<rect x="275.90" y="491.30" width="2.40" height="11.80" fill="#767676" stroke="#3a3a3a" stroke-width="0.9"/>
<line x1="275.90" y1="527.90" x2="275.90" y2="531.30" stroke="#787878" stroke-width="0.9"/>
<text x="276.70" y="540.92" font-family='"Liberation Sans", sans-serif' font-size="10.4" font-weight="normal" font-style="normal" text-anchor="middle" fill="#111" textLength="17.60" lengthAdjust="spacingAndGlyphs" stroke="#111" stroke-width="0.3" >0.00</text>
<line x1="309.21" y1="527.90" x2="309.21" y2="531.30" stroke="#787878" stroke-width="0.9"/>
<text x="310.00" y="542.96" font-family='"Liberation Sans", sans-serif' font-size="10.4" font-weight="normal" font-style="normal" text-anchor="middle" fill="#111" textLength="17.60" lengthAdjust="spacingAndGlyphs" stroke="#111" stroke-width="0.3" >0.50</text>
<line x1="342.53" y1="527.90" x2="342.53" y2="531.30" stroke="#787878" stroke-width="0.9"/>
<text x="343.20" y="543.10" font-family='"Liberation Sans", sans-serif' font-size="10.4" font-weight="normal" font-style="normal" text-anchor="middle" fill="#111" textLength="17.60" lengthAdjust="spacingAndGlyphs" stroke="#111" stroke-width="0.3" >1.00</text>
<line x1="375.84" y1="527.90" x2="375.84" y2="531.30" stroke="#787878" stroke-width="0.9"/>
<text x="375.90" y="542.13" font-family='"Liberation Sans", sans-serif' font-size="10.4" font-weight="normal" font-style="normal" text-anchor="middle" fill="#111" textLength="17.60" lengthAdjust="spacingAndGlyphs" stroke="#111" stroke-width="0.3" >1.50</text>
<line x1="409.16" y1="527.90" x2="409.16" y2="531.30" stroke="#787878" stroke-width="0.9"/>
<text x="408.40" y="542.37" font-family='"Liberation Sans", sans-serif' font-size="10.4" font-weight="normal" font-style="normal" text-anchor="middle" fill="#111" textLength="17.60" lengthAdjust="spacingAndGlyphs" stroke="#111" stroke-width="0.3" >2.00</text>
<line x1="442.47" y1="527.90" x2="442.47" y2="531.30" stroke="#787878" stroke-width="0.9"/>
<text x="441.90" y="543.81" font-family='"Liberation Sans", sans-serif' font-size="10.4" font-weight="normal" font-style="normal" text-anchor="middle" fill="#111" textLength="17.60" lengthAdjust="spacingAndGlyphs" stroke="#111" stroke-width="0.3" >2.50</text>
<line x1="475.79" y1="527.90" x2="475.79" y2="531.30" stroke="#787878" stroke-width="0.9"/>
<text x="475.40" y="542.95" font-family='"Liberation Sans", sans-serif' font-size="10.4" font-weight="normal" font-style="normal" text-anchor="middle" fill="#111" textLength="17.60" lengthAdjust="spacingAndGlyphs" stroke="#111" stroke-width="0.3" >3.00</text>
<line x1="509.10" y1="527.90" x2="509.10" y2="531.30" stroke="#787878" stroke-width="0.9"/>
<text x="508.80" y="541.09" font-family='"Liberation Sans", sans-serif' font-size="10.4" font-weight="normal" font-style="normal" text-anchor="middle" fill="#111" textLength="17.60" lengthAdjust="spacingAndGlyphs" stroke="#111" stroke-width="0.3" >3.50</text>
<text x="308.90" y="560.40" font-family='"Liberation Sans", sans-serif' font-size="10.4" font-weight="normal" font-style="normal" text-anchor="start" fill="#111" textLength="162.00" lengthAdjust="spacingAndGlyphs" stroke="#111" stroke-width="0.3" >Light Units/Unit of Beta-Gal Activity (X10</text>
<text x="471.30" y="555.90" font-family='"Liberation Sans", sans-serif' font-size="6.0" font-weight="normal" font-style="normal" text-anchor="start" fill="#111" stroke="#111" stroke-width="0.15" >6</text>
<text x="475.10" y="560.70" font-family='"Liberation Sans", sans-serif' font-size="10.4" font-weight="normal" font-style="normal" text-anchor="start" fill="#111" textLength="2.80" lengthAdjust="spacingAndGlyphs" stroke="#111" stroke-width="0.2" >)</text>
<g transform="translate(-0.4 0.3)">
<rect x="427.70" y="484.40" width="74.00" height="34.10" fill="#fff" stroke="#787878" stroke-width="0.9"/>
<rect x="432.50" y="491.50" width="21.20" height="7.90" fill="#767676" stroke="#222" stroke-width="0.8"/>
<rect x="432.50" y="503.70" width="21.20" height="7.60" fill="#fff" stroke="#222" stroke-width="0.8"/>
<text x="459.40" y="499.40" font-family='"Liberation Sans", sans-serif' font-size="10.4" font-weight="normal" font-style="normal" text-anchor="start" fill="#111" textLength="37.60" lengthAdjust="spacingAndGlyphs" stroke="#111" stroke-width="0.4" >Thrombin</text>
<text x="459.40" y="511.60" font-family='"Liberation Sans", sans-serif' font-size="10.4" font-weight="normal" font-style="normal" text-anchor="start" fill="#111" textLength="28.60" lengthAdjust="spacingAndGlyphs" stroke="#111" stroke-width="0.4" >Control</text>
</g>
</g>
</svg></body></html>
